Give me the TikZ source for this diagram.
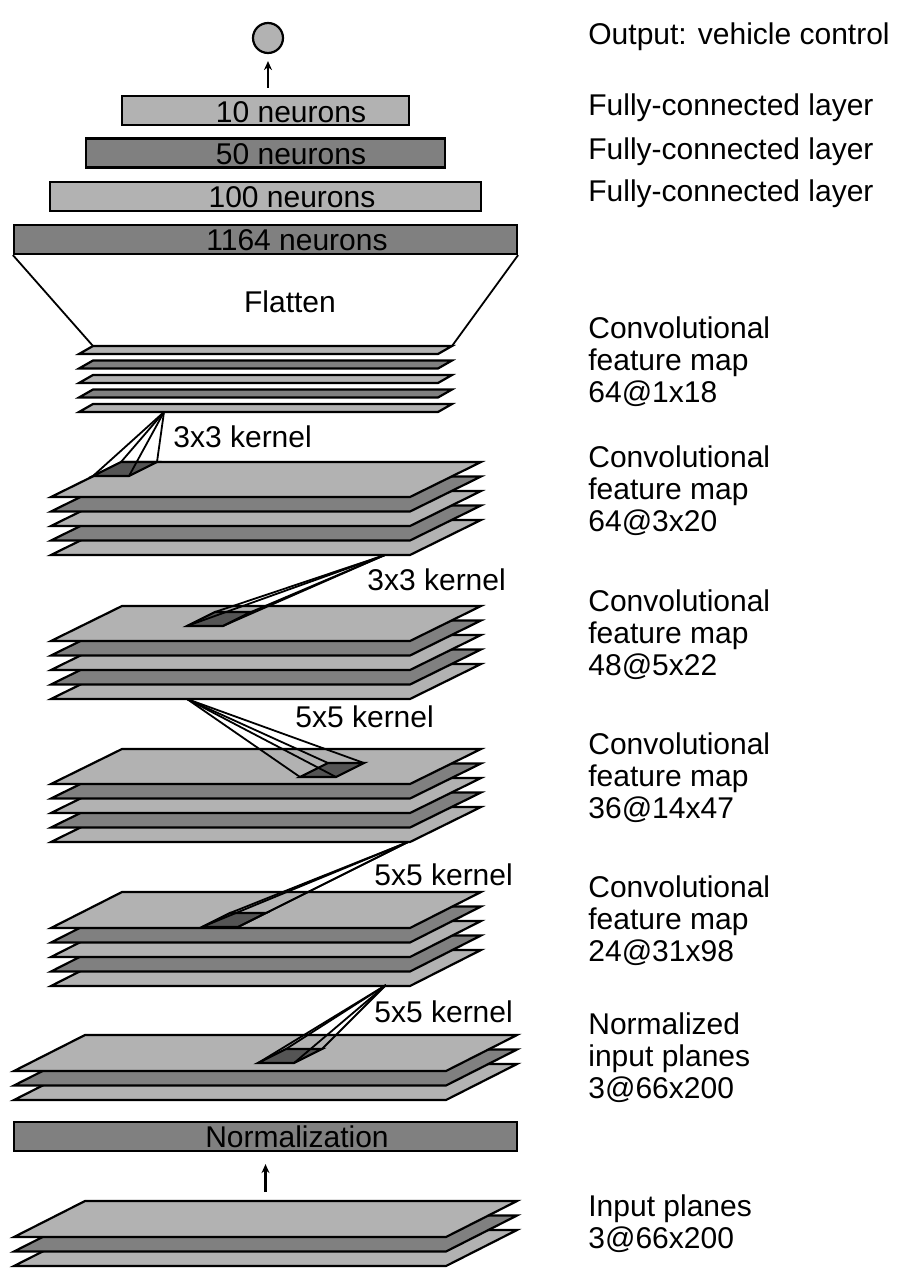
\documentclass[tikz,border=0pt]{standalone}
\usepackage{fontspec}
\setmainfont{Liberation Sans}
\usetikzlibrary{arrows.meta}
\definecolor{planelight}{gray}{0.70}
\definecolor{planedark}{gray}{0.50}
\definecolor{kerneldark}{gray}{0.33}
% stack of planes: left x, lower y of top plane, width, depth, skew, index/colour list, name
\newcommand{\planestack}[7]{
  \foreach \i/\col in {#6}
    \filldraw[plane,fill=\col] (#1,#2+14.5*\i) -- ++(#3,0) -- ++(#5,-#4) -- ++(-#3,0) -- cycle;
  \coordinate (#7-tl) at (#1+#5,#2-#4);
  \coordinate (#7-tr) at (#1+#3+#5,#2-#4);
}
% kernel: name, apex, lower left corner
\newcommand{\kernel}[4]{
  \coordinate (#1-bl) at (#3,#4);
  \coordinate (#1-br) at (#3+36,#4);
  \coordinate (#1-tr) at (#3+64,#4-14);
  \coordinate (#1-tl) at (#3+28,#4-14);
  \filldraw[plane,fill=kerneldark] (#1-bl) -- (#1-br) -- (#1-tr) -- (#1-tl) -- cycle;
  \foreach \c in {bl,br,tr,tl} \draw[cone] (#2) -- (#1-\c);
}
\begin{document}
\begin{tikzpicture}[x=0.5pt,y=-0.5pt,
    plane/.style={draw=black,line width=1.1pt,line join=miter},
    cone/.style={draw=black,line width=0.9pt},
    layer/.style={draw=black,line width=1.1pt,minimum height=14.5pt,inner sep=0pt},
    txt/.style={font=\fontsize{15}{16}\selectfont,inner sep=0pt},
    side/.style={txt,anchor=west,align=left},
    arrow/.style={line width=1.4pt,-{Stealth[length=4.5pt,width=4pt]},shorten <=3.5pt,shorten >=3.5pt}]
  \useasboundingbox (0,0) rectangle (900,1279);

  % output and fully connected layers
  \node[circle,draw=black,line width=1.1pt,fill=planelight,minimum size=15pt,inner sep=0pt] (out) at (268,38) {};
  \node[layer,fill=planelight,minimum width=143.5pt] (fc10) at (265.5,110.5) {};
  \node[layer,fill=planedark,minimum width=179.5pt] (fc50) at (265.5,153) {};
  \node[layer,fill=planelight,minimum width=215.5pt] (fc100) at (265.5,196.5) {};
  \node[layer,fill=planedark,minimum width=251.5pt] (fc1164) at (265.5,239.5) {};
  \node[txt] (t10) at (291,112) {10 neurons};
  \node[txt] (t50) at (291,154) {50 neurons};
  \node[txt] (t100) at (292,197) {100 neurons};
  \node[txt] (t1164) at (297,240) {1164 neurons};
  \draw[arrow] (fc10.north -| out) -- (out.south);

  % convolutional feature maps
  \planestack{79}{354}{359}{8}{14}{4/planelight,3/planedark,2/planelight,1/planedark,0/planelight}{s1}
  \planestack{51}{497}{359}{35}{71}{4/planelight,3/planedark,2/planelight,1/planedark,0/planelight}{s2}
  \planestack{51}{641}{359}{35}{71}{4/planelight,3/planedark,2/planelight,1/planedark,0/planelight}{s3}
  \planestack{51}{784}{359}{35}{71}{4/planelight,3/planedark,2/planelight,1/planedark,0/planelight}{s4}
  \planestack{51}{928}{359}{36}{71}{4/planelight,3/planedark,2/planelight,1/planedark,0/planelight}{s5}
  \planestack{14}{1071}{432}{36}{71}{2/planelight,1/planedark,0/planelight}{s6}
  \planestack{14}{1237}{432}{36}{71}{2/planelight,1/planedark,0/planelight}{s7}

  \draw[cone] (fc1164.south west) -- (s1-tl);
  \draw[cone] (fc1164.south east) -- (s1-tr);
  \node[txt] (tflat) at (290,302) {Flatten};

  % kernels
  \coordinate (a1) at (164,412);
  \coordinate (a2) at (385,555);
  \coordinate (a3) at (187,699);
  \coordinate (a4) at (408,842);
  \coordinate (a5) at (386,985);
  \kernel{k1}{a1}{93}{476}
  \kernel{k2}{a2}{187}{626}
  \kernel{k3}{a3}{300}{777}
  \kernel{k4}{a4}{202}{927}
  \kernel{k5}{a5}{258}{1063}
  \node[side] (l1) at (173,437) {3x3 kernel};
  \node[side] (l2) at (367,580) {3x3 kernel};
  \node[side] (l3) at (295,717) {5x5 kernel};
  \node[side] (l4) at (374,875) {5x5 kernel};
  \node[side] (l5) at (374,1012) {5x5 kernel};

  % normalization
  \node[layer,fill=planedark,minimum width=251.5pt] (norm) at (265.5,1136.5) {};
  \node[txt] (tnorm) at (297,1137) {Normalization};
  \draw[arrow,shorten <=4.5pt,shorten >=6pt] (norm.south |- s7-tl) -- (norm.south);

  % descriptions
  \node[side] (d0) at (588,37) {Output: vehicle control};
  \node[side] (d1) at (588,108) {Fully-connected layer};
  \node[side] (d2) at (588,152) {Fully-connected layer};
  \node[side] (d3) at (588,194) {Fully-connected layer};
  \node[side] (d4) at (588,362) {Convolutional\\feature map\\64@1x18};
  \node[side] (d5) at (588,491) {Convolutional\\feature map\\64@3x20};
  \node[side] (d6) at (588,635) {Convolutional\\feature map\\48@5x22};
  \node[side] (d7) at (588,778) {Convolutional\\feature map\\36@14x47};
  \node[side] (d8) at (588,921) {Convolutional\\feature map\\24@31x98};
  \node[side] (d9) at (588,1058) {Normalized\\input planes\\3@66x200};
  \node[side] (d10) at (588,1224) {Input planes\\3@66x200};
\end{tikzpicture}
\end{document}
